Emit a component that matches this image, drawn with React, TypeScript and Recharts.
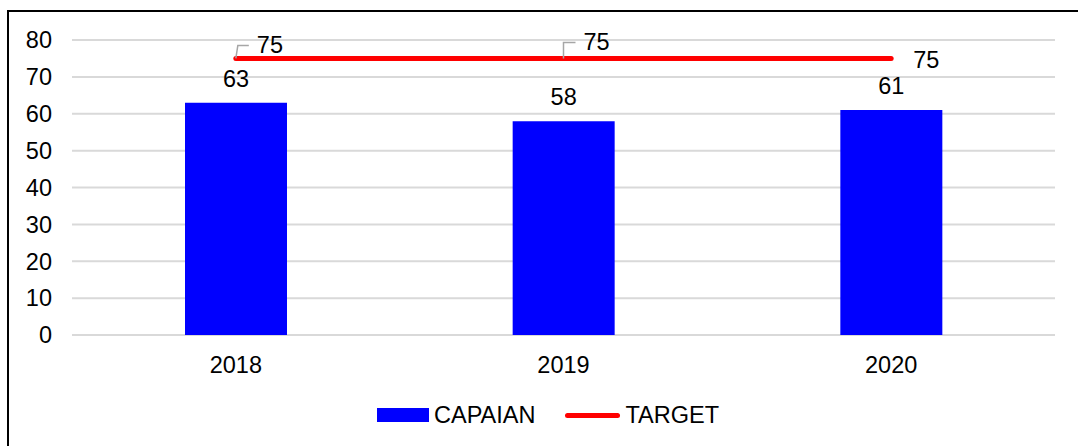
import React from 'react'
import { Bar, CartesianGrid, ComposedChart, LabelList, Legend, Line, XAxis, YAxis } from 'recharts'

const years = ['2018', '2019', '2020']
const capaian = [63, 58, 61]
const target = [75, 75, 75]
const yTicks = [0, 10, 20, 30, 40, 50, 60, 70, 80]

const chartData = years.map((year, i) => ({ year, capaian: capaian[i], target: target[i] }))

const FONT = '"Liberation Sans", Arial, sans-serif'
const FONT_SIZE = 23.5

function TargetLabel(props: any) {
  const { x, y, index, value } = props
  if (index === years.length - 1) {
    return (
      <text x={x + 22} y={y + 10} fontSize={FONT_SIZE} fontFamily={FONT} fill="#000">
        {value}
      </text>
    )
  }
  const first = index === 0
  const topY = first ? y - 13 : y - 16
  const bendX = first ? x + 2 : x
  const endX = first ? x + 13 : x + 12
  return (
    <g>
      <path
        d={`M${x},${y} L${bendX},${topY} L${endX},${topY}`}
        stroke="#a6a6a6"
        strokeWidth={1.5}
        fill="none"
      />
      <text x={endX + 8} y={topY + 8} fontSize={FONT_SIZE} fontFamily={FONT} fill="#000">
        {value}
      </text>
    </g>
  )
}

function LegendContent() {
  return (
    <div
      style={{
        display: 'flex',
        alignItems: 'center',
        paddingLeft: 377,
        height: 30,
        fontSize: FONT_SIZE,
        fontFamily: FONT,
        color: '#000',
      }}
    >
      <span style={{ width: 52, height: 14, background: '#0000ff', display: 'inline-block' }} />
      <span style={{ marginLeft: 5 }}>CAPAIAN</span>
      <span
        style={{
          marginLeft: 30,
          width: 55,
          height: 5,
          borderRadius: 3,
          background: '#ff0000',
          display: 'inline-block',
        }}
      />
      <span style={{ marginLeft: 5 }}>TARGET</span>
    </div>
  )
}

export default function App() {
  return (
    <div
      style={{
        position: 'absolute',
        left: 0,
        top: 0,
        width: 1078,
        height: 446,
        background: '#fff',
        overflow: 'hidden',
      }}
    >
      <div
        style={{
          position: 'absolute',
          left: 7,
          top: 10,
          width: 1200,
          height: 600,
          borderLeft: '2px solid #000',
          borderTop: '2px solid #000',
        }}
      />
      <ComposedChart
        width={1078}
        height={446}
        data={chartData}
        margin={{ top: 40, right: 23, left: 12, bottom: 81 }}
        style={{ position: 'absolute', left: 0, top: 0 }}
      >
        <CartesianGrid vertical={false} stroke="#d9d9d9" strokeWidth={2} />
        <XAxis
          dataKey="year"
          axisLine={false}
          tickLine={false}
          height={30}
          tickMargin={15}
          tick={{ fontSize: FONT_SIZE, fontFamily: FONT, fill: '#000' }}
        />
        <YAxis
          domain={[0, 80]}
          ticks={yTicks}
          width={60}
          axisLine={false}
          tickLine={false}
          tickMargin={14}
          tick={{ fontSize: FONT_SIZE, fontFamily: FONT, fill: '#000' }}
        />
        <Legend
          verticalAlign="middle"
          align="center"
          content={<LegendContent />}
          wrapperStyle={{ top: 400, left: 0, width: 1078 }}
        />
        <Bar dataKey="capaian" name="CAPAIAN" fill="#0000ff" barSize={102} isAnimationActive={false}>
          <LabelList
            dataKey="capaian"
            position="top"
            offset={16}
            fill="#000"
            fontSize={FONT_SIZE}
            fontFamily={FONT}
          />
        </Bar>
        <Line
          dataKey="target"
          name="TARGET"
          stroke="#ff0000"
          strokeWidth={5}
          strokeLinecap="round"
          dot={false}
          activeDot={false}
          isAnimationActive={false}
        >
          <LabelList dataKey="target" content={<TargetLabel />} />
        </Line>
      </ComposedChart>
    </div>
  )
}
